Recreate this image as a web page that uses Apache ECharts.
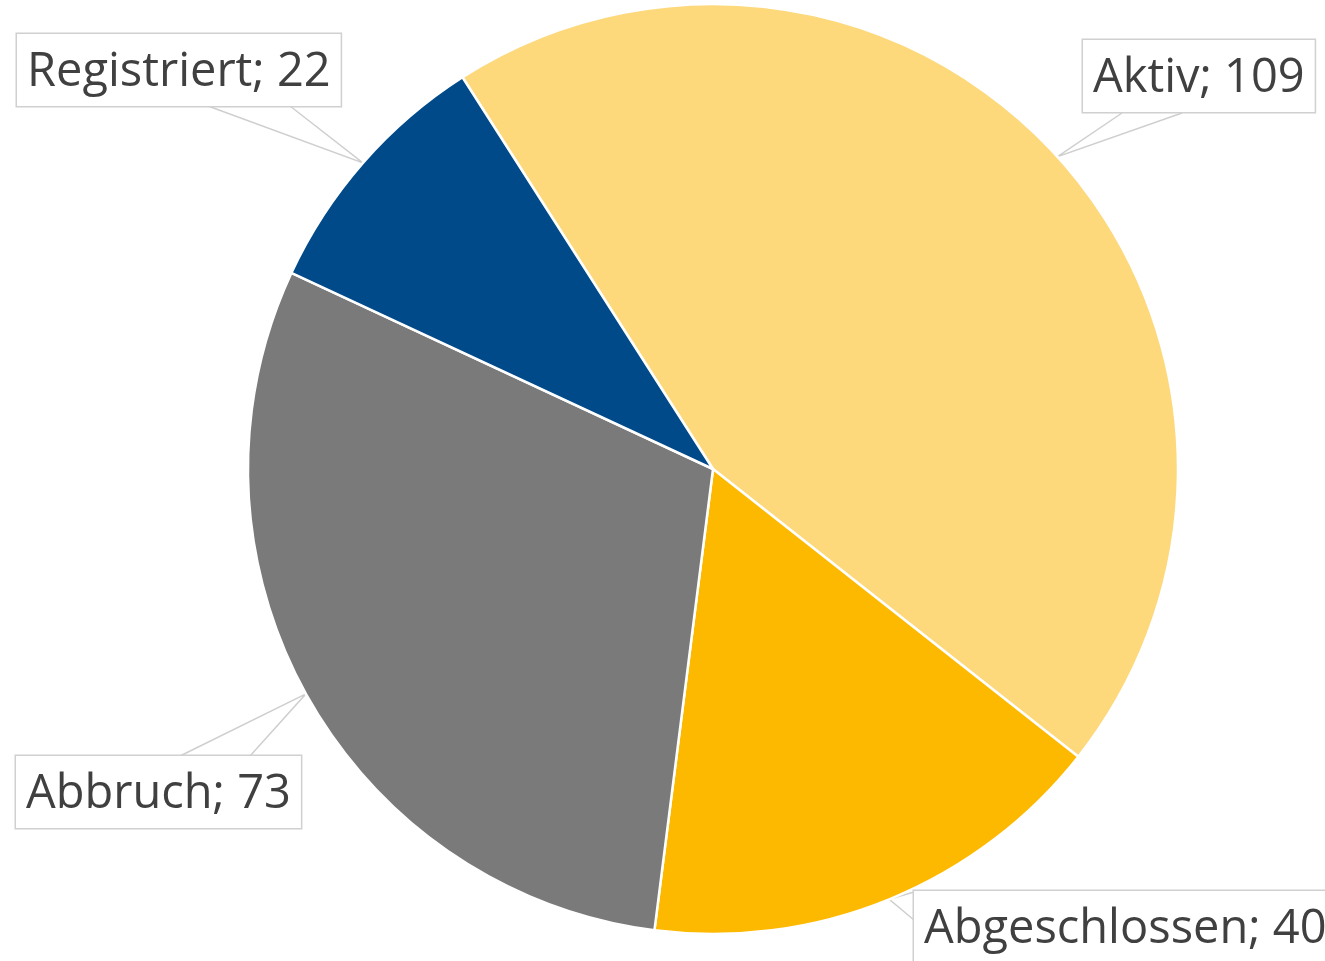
<!DOCTYPE html>
<html>
<head>
<meta charset="utf-8">
<script src="https://cdn.jsdelivr.net/npm/echarts@6/dist/echarts.min.js"></script>
<style>
  html, body { margin: 0; padding: 0; background: #fff; }
  #main { width: 1325px; height: 961px; }
</style>
</head>
<body>
<div id="main"></div>
<script>
var categories = ['Aktiv', 'Abgeschlossen', 'Abbruch', 'Registriert'];
var values = [109, 40, 73, 22];
var sliceColors = ['#fdd97c', '#fdb900', '#7a7a7a', '#004a8a'];

// Callout boxes: top-left corner of each box and the two base points of its wedge
var callouts = {
    'Aktiv': { x: 1083, y: 40, base: [[1122, 113], [1182, 113]] },
    'Abgeschlossen': { x: 914, y: 891, base: [[914, 892], [914, 920]] },
    'Abbruch': { x: 16, y: 756, base: [[180, 756], [250, 756]] },
    'Registriert': { x: 17, y: 34, base: [[208, 106], [290, 106]] }
};

var myChart = echarts.init(document.getElementById('main'));

var data = categories.map(function (name, i) {
    return {
        name: name,
        value: values[i],
        itemStyle: { color: sliceColors[i] }
    };
});

option = {
    animation: false,
    series: [{
        type: 'pie',
        center: [713, 469],
        radius: 465,
        startAngle: 122.6,
        clockwise: true,
        avoidLabelOverlap: false,
        itemStyle: {
            borderColor: '#ffffff',
            borderWidth: 2.5
        },
        label: {
            show: true,
            position: 'outer',
            formatter: '{b}; {c}',
            fontFamily: 'Open Sans',
            fontSize: 47,
            lineHeight: 46,
            color: '#404040',
            backgroundColor: '#ffffff',
            borderColor: '#d0d0d0',
            borderWidth: 1.5,
            padding: [16, 10, 10, 10]
        },
        labelLine: {
            show: true,
            lineStyle: { color: '#cfcfcf', width: 1.5 }
        },
        labelLayout: function (params) {
            var c = callouts[categories[params.dataIndex]];
            var tip = params.labelLinePoints[0];
            return {
                x: c.x,
                y: c.y,
                align: 'left',
                verticalAlign: 'top',
                labelLinePoints: [c.base[0], tip, c.base[1]]
            };
        },
        data: data
    }]
};

myChart.setOption(option);
</script>
</body>
</html>
